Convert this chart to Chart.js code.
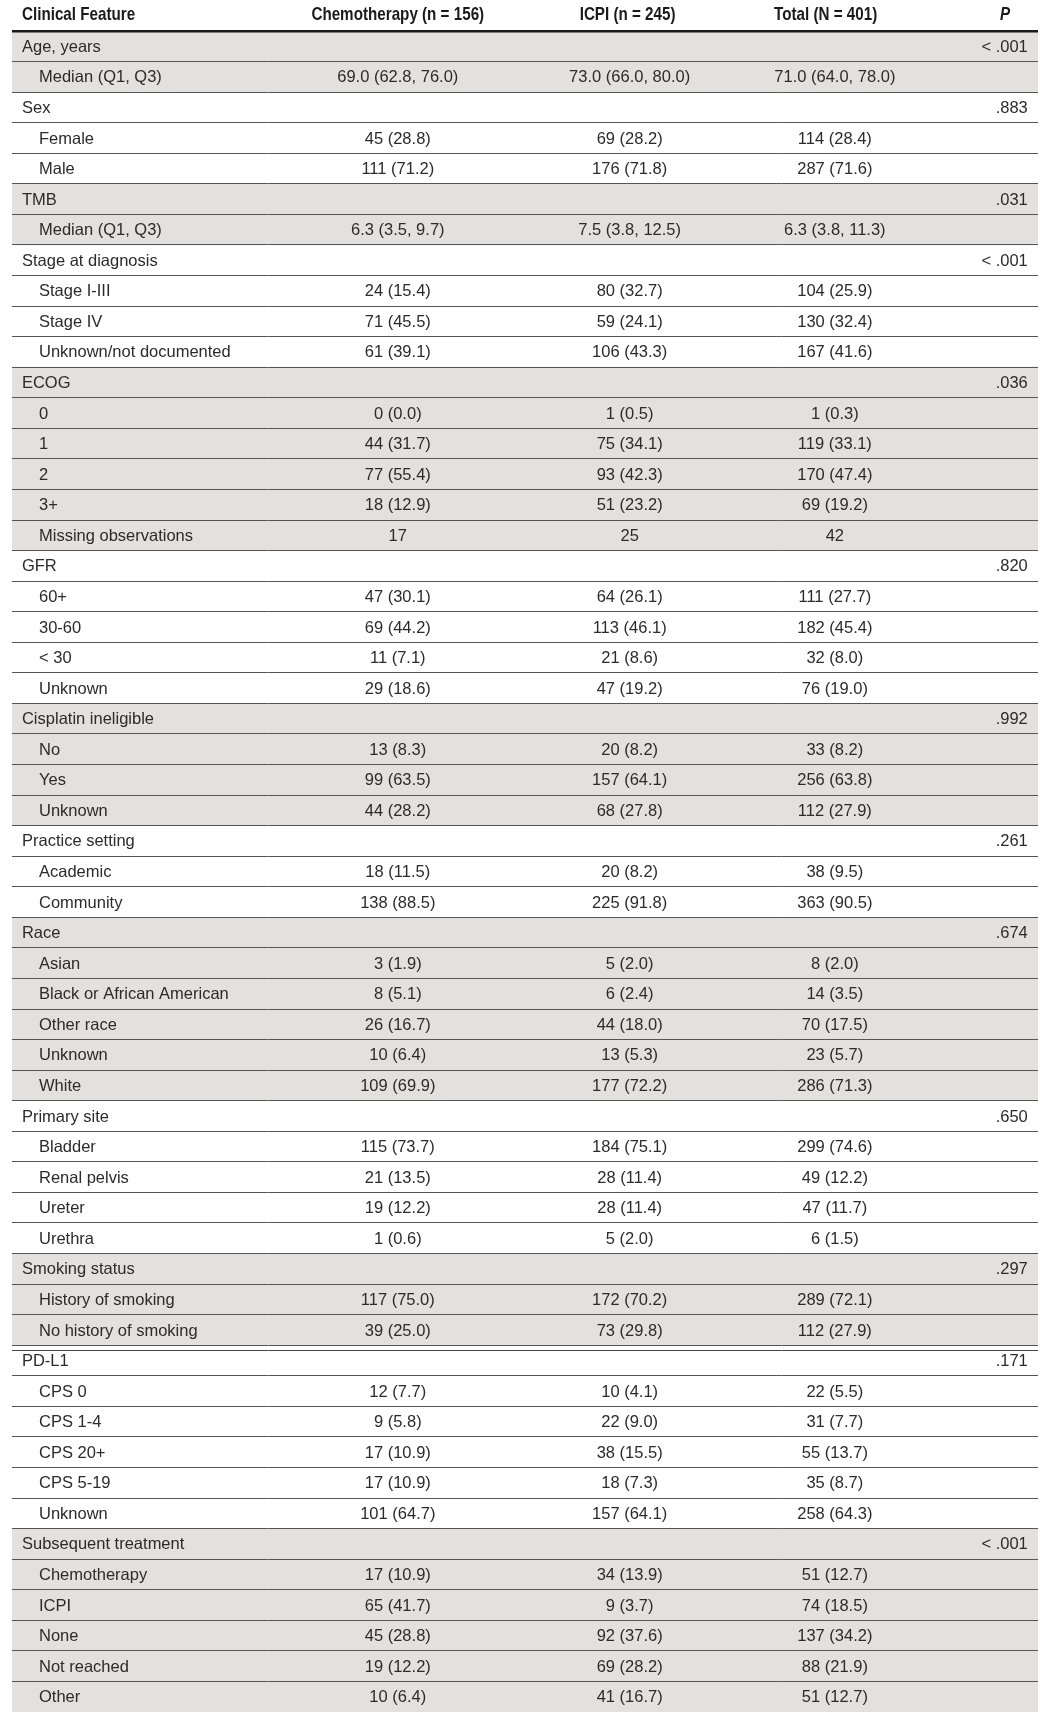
<!DOCTYPE html>
<html>
<head>
<meta charset="utf-8">
<script src="https://cdn.jsdelivr.net/npm/chart.js@4.4.1/dist/chart.umd.min.js"></script>
<style>
  body { margin: 0; background: #fff; }
  #wrap { width: 1057px; height: 1726px; position: relative; }
</style>
</head>
<body>
<div id="wrap"><canvas id="myChart"></canvas></div>
<script>
// table rows, top to bottom
const rowLabels = ['Age, years', 'Median (Q1, Q3)', 'Sex', 'Female', 'Male', 'TMB', 'Median (Q1, Q3)',
    'Stage at diagnosis', 'Stage I-III', 'Stage IV', 'Unknown/not documented',
    'ECOG', '0', '1', '2', '3+', 'Missing observations',
    'GFR', '60+', '30-60', '< 30', 'Unknown',
    'Cisplatin ineligible', 'No', 'Yes', 'Unknown',
    'Practice setting', 'Academic', 'Community',
    'Race', 'Asian', 'Black or African American', 'Other race', 'Unknown', 'White',
    'Primary site', 'Bladder', 'Renal pelvis', 'Ureter', 'Urethra',
    'Smoking status', 'History of smoking', 'No history of smoking',
    'PD-L1', 'CPS 0', 'CPS 1-4', 'CPS 20+', 'CPS 5-19', 'Unknown',
    'Subsequent treatment', 'Chemotherapy', 'ICPI', 'None', 'Not reached', 'Other'];

// 1 = section heading, 0 = sub row
const rowIsGroup = [1, 0, 1, 0, 0, 1, 0, 1, 0, 0, 0, 1, 0, 0, 0, 0, 0, 1, 0, 0, 0, 0, 1, 0, 0, 0,
    1, 0, 0, 1, 0, 0, 0, 0, 0, 1, 0, 0, 0, 0, 1, 0, 0, 1, 0, 0, 0, 0, 0, 1, 0, 0, 0, 0, 0];

const columnHeaders = ['Clinical Feature', 'Chemotherapy (n = 156)', 'ICPI (n = 245)', 'Total (N = 401)', 'P'];

const chemoValues = ['', '69.0 (62.8, 76.0)', '', '45 (28.8)', '111 (71.2)', '', '6.3 (3.5, 9.7)',
    '', '24 (15.4)', '71 (45.5)', '61 (39.1)',
    '', '0 (0.0)', '44 (31.7)', '77 (55.4)', '18 (12.9)', '17',
    '', '47 (30.1)', '69 (44.2)', '11 (7.1)', '29 (18.6)',
    '', '13 (8.3)', '99 (63.5)', '44 (28.2)',
    '', '18 (11.5)', '138 (88.5)',
    '', '3 (1.9)', '8 (5.1)', '26 (16.7)', '10 (6.4)', '109 (69.9)',
    '', '115 (73.7)', '21 (13.5)', '19 (12.2)', '1 (0.6)',
    '', '117 (75.0)', '39 (25.0)',
    '', '12 (7.7)', '9 (5.8)', '17 (10.9)', '17 (10.9)', '101 (64.7)',
    '', '17 (10.9)', '65 (41.7)', '45 (28.8)', '19 (12.2)', '10 (6.4)'];

const icpiValues = ['', '73.0 (66.0, 80.0)', '', '69 (28.2)', '176 (71.8)', '', '7.5 (3.8, 12.5)',
    '', '80 (32.7)', '59 (24.1)', '106 (43.3)',
    '', '1 (0.5)', '75 (34.1)', '93 (42.3)', '51 (23.2)', '25',
    '', '64 (26.1)', '113 (46.1)', '21 (8.6)', '47 (19.2)',
    '', '20 (8.2)', '157 (64.1)', '68 (27.8)',
    '', '20 (8.2)', '225 (91.8)',
    '', '5 (2.0)', '6 (2.4)', '44 (18.0)', '13 (5.3)', '177 (72.2)',
    '', '184 (75.1)', '28 (11.4)', '28 (11.4)', '5 (2.0)',
    '', '172 (70.2)', '73 (29.8)',
    '', '10 (4.1)', '22 (9.0)', '38 (15.5)', '18 (7.3)', '157 (64.1)',
    '', '34 (13.9)', '9 (3.7)', '92 (37.6)', '69 (28.2)', '41 (16.7)'];

const totalValues = ['', '71.0 (64.0, 78.0)', '', '114 (28.4)', '287 (71.6)', '', '6.3 (3.8, 11.3)',
    '', '104 (25.9)', '130 (32.4)', '167 (41.6)',
    '', '1 (0.3)', '119 (33.1)', '170 (47.4)', '69 (19.2)', '42',
    '', '111 (27.7)', '182 (45.4)', '32 (8.0)', '76 (19.0)',
    '', '33 (8.2)', '256 (63.8)', '112 (27.9)',
    '', '38 (9.5)', '363 (90.5)',
    '', '8 (2.0)', '14 (3.5)', '70 (17.5)', '23 (5.7)', '286 (71.3)',
    '', '299 (74.6)', '49 (12.2)', '47 (11.7)', '6 (1.5)',
    '', '289 (72.1)', '112 (27.9)',
    '', '22 (5.5)', '31 (7.7)', '55 (13.7)', '35 (8.7)', '258 (64.3)',
    '', '51 (12.7)', '74 (18.5)', '137 (34.2)', '88 (21.9)', '51 (12.7)'];

// one P value per section heading
const pValues = ['< .001', '.883', '.031', '< .001', '.036', '.820', '.992', '.261', '.674', '.650', '.297', '.171', '< .001'];

// sections alternate grey / white
let groupOf = [];
let g = -1;
for (let i = 0; i < rowLabels.length; i++) {
    if (rowIsGroup[i]) g++;
    groupOf.push(g);
}
const shadeData = groupOf.map(function (gr) { return gr % 2 === 0 ? [0, 100] : null; });

// column anchors in x-scale units (0..100 across the table)
const colX = { label: 0.97, sub: 2.63, chemo: 37.6, icpi: 60.2, total: 80.2, p: 99.0 };
const headX = { label: 0.97, chemo: 37.6, icpi: 60.0, total: 79.3, p: 96.8 };

const bodyFont = '16.5px "Liberation Sans", Arial, sans-serif';
const headFont = 'bold 19px "Liberation Sans", Arial, sans-serif';
const headSquash = 0.8;
const textColor = '#2b2b2b';

function narrowText(c, text, px, py) {
    c.save();
    c.translate(px, py);
    c.scale(headSquash, 1);
    c.fillText(text, 0, 0);
    c.restore();
}

const tableText = {
    id: 'tableText',
    beforeDraw(chart) {
        const c = chart.ctx;
        c.save();
        c.fillStyle = '#fff';
        c.fillRect(0, 0, chart.width, chart.height);
        c.restore();
    },
    afterDraw(chart) {
        const c = chart.ctx;
        const x = chart.scales.x;
        const y = chart.scales.y;
        const top = chart.chartArea.top;
        c.save();
        c.fillStyle = '#1a1a1a';
        c.textBaseline = 'middle';
        c.font = headFont;
        const hy = top - 16;
        c.textAlign = 'left';
        narrowText(c, columnHeaders[0], x.getPixelForValue(headX.label), hy);
        c.textAlign = 'center';
        narrowText(c, columnHeaders[1], x.getPixelForValue(headX.chemo), hy);
        narrowText(c, columnHeaders[2], x.getPixelForValue(headX.icpi), hy);
        narrowText(c, columnHeaders[3], x.getPixelForValue(headX.total), hy);
        c.font = 'italic ' + headFont;
        narrowText(c, columnHeaders[4], x.getPixelForValue(headX.p), hy);

        c.font = bodyFont;
        c.fillStyle = textColor;
        for (let i = 0; i < rowLabels.length; i++) {
            const ry = y.getPixelForValue(i) + 1;
            c.textAlign = 'left';
            c.fillText(rowLabels[i], x.getPixelForValue(rowIsGroup[i] ? colX.label : colX.sub), ry);
            c.textAlign = 'center';
            c.fillText(chemoValues[i], x.getPixelForValue(colX.chemo), ry);
            c.fillText(icpiValues[i], x.getPixelForValue(colX.icpi), ry);
            c.fillText(totalValues[i], x.getPixelForValue(colX.total), ry);
            if (rowIsGroup[i]) {
                c.textAlign = 'right';
                c.fillText(pValues[groupOf[i]], x.getPixelForValue(colX.p), ry);
            }
        }

        // double rule above PD-L1
        const pd = rowLabels.indexOf('PD-L1');
        const by = (y.getPixelForValue(pd - 1) + y.getPixelForValue(pd)) / 2 + 5;
        c.strokeStyle = '#444';
        c.lineWidth = 1;
        c.beginPath();
        c.moveTo(x.getPixelForValue(0), Math.round(by) + 0.5);
        c.lineTo(x.getPixelForValue(100), Math.round(by) + 0.5);
        c.stroke();
        c.restore();
    }
};

const ctx = document.getElementById('myChart');
new Chart(ctx, {
    type: 'bar',
    data: {
        labels: rowLabels.map(function (l, i) { return i; }),
        datasets: [{
            data: shadeData,
            backgroundColor: '#e2e1df',
            borderWidth: 0,
            barPercentage: 1,
            categoryPercentage: 1
        }]
    },
    options: {
        indexAxis: 'y',
        responsive: true,
        maintainAspectRatio: false,
        animation: false,
        layout: { padding: { left: 12, right: 19, top: 31, bottom: 14 } },
        plugins: { legend: { display: false }, tooltip: { enabled: false } },
        scales: {
            x: { type: 'linear', min: 0, max: 100, display: false },
            y: {
                type: 'category',
                offset: true,
                ticks: { display: false },
                border: { display: false },
                grid: {
                    z: 1,
                    offset: true,
                    drawTicks: false,
                    color: function (c) { return c.index === 0 ? '#1a1a1a' : '#555'; },
                    lineWidth: function (c) {
                        // the closing line after the last row has no tick index
                        if (c.index === undefined || c.index >= rowLabels.length) return 0;
                        if (c.index === 0) return 2.5;
                        return 1;
                    }
                }
            }
        }
    },
    plugins: [tableText]
});
</script>
</body>
</html>
